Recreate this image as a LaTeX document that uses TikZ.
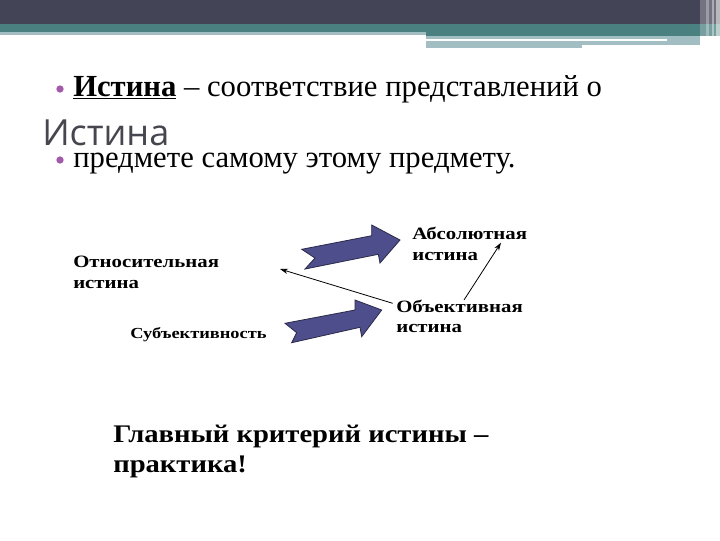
\documentclass[tikz,border=0pt]{standalone}
\usepackage{fontspec}
\setmainfont{Liberation Serif}
\newfontfamily\titlefont{Open Sans}
\newfontfamily\lblfont[FakeStretch=1.2]{Liberation Serif}
\newfontfamily\mainfont[FakeStretch=1.13]{Liberation Serif}
\usetikzlibrary{arrows.meta}
\definecolor{hdark}{HTML}{434456}
\definecolor{hteal}{HTML}{4A8080}
\definecolor{hlight}{HTML}{A3BEC2}
\definecolor{bulletc}{HTML}{A35AAA}
\definecolor{titlec}{HTML}{46464F}
\definecolor{arrowfill}{HTML}{4E4E8C}
\definecolor{arrowline}{HTML}{2A2A48}
\tikzset{
  bullettext/.style={anchor=base west, inner sep=0pt, font=\fontsize{23}{27}\selectfont},
  bulletdot/.style={circle, fill=bulletc, inner sep=0pt, minimum size=5.5pt},
  lbl/.style={anchor=base west, inner sep=0pt, align=left, font=\lblfont\fontsize{13}{15.3}\selectfont\bfseries},
  blockarrow/.style={fill=arrowfill, draw=arrowline, line width=0.6pt, line join=miter},
  thinarrow/.style={draw=black, line width=0.6pt, -{Stealth[length=6pt,width=4pt]}}
}
\begin{document}
\begin{tikzpicture}[x=0.75pt,y=-0.75pt]
\useasboundingbox (0,0) rectangle (720,540);
\fill[white] (0,0) rectangle (720,540);
% header
\fill[hdark] (0,0) rectangle (720,24);
\fill[hteal] (0,24) rectangle (426,32);
\fill[hlight] (0,32) rectangle (426,35);
\fill[hteal] (426,24) rectangle (720,36);
\fill[hlight] (426,36) rectangle (700,48);
\fill[white] (426,38.5) rectangle (667,40.5);
\fill[white] (582,45) rectangle (704,48);
\fill[white,opacity=0.25] (700,0) rectangle (720,48);
\fill[white,opacity=0.3] (706,0) rectangle (709,48);
\fill[white,opacity=0.4] (712,0) rectangle (714,48);
\fill[white,opacity=0.5] (716,0) rectangle (720,48);
% title
\node[anchor=base west, inner sep=0pt, text=titlec, font=\titlefont\fontsize{27}{31}\selectfont] (title) at (42,145) {Истина};
% bullets
\node[bulletdot] (b1) at (60,89) {};
\node[bullettext] (t1) at (73,96) {\textbf{\underline{Истина}} – соответствие представлений о};
\node[bulletdot] (b2) at (60,160) {};
\node[bullettext] (t2) at (73,167) {предмете самому этому предмету.};
% labels (anchored at the baseline of the last line)
\node[lbl] (otn) at (73,288) {Относительная\\истина};
\node[lbl] (abs) at (412,260) {Абсолютная\\истина};
\node[lbl] (obj) at (396,332.5) {Объективная\\истина};
\node[lbl, font=\lblfont\fontsize{11.5}{14}\selectfont\bfseries] (sub) at (130,338.5) {Субъективность};
\node[anchor=base west, inner sep=0pt, align=left, font=\mainfont\fontsize{19}{21.8}\selectfont\bfseries] (main) at (113,472) {Главный критерий истины –\\практика!};
% block arrows
\draw[blockarrow] (301.7,249.3) -- (371.7,235.7) -- (371.7,225) -- (400,240) -- (380,263) -- (378.3,254.3) -- (305,269) -- (315,258) -- cycle;
\draw[blockarrow] (285,323.3) -- (355,310) -- (355,300) -- (381.7,310) -- (361.7,336.7) -- (360,327.3) -- (291.7,342.7) -- (296.7,332.7) -- cycle;
% thin connectors
\coordinate (objL) at (392.7,303.3);
\coordinate (otnR) at (280,269);
\coordinate (objT) at (464,300);
\coordinate (absB) at (501,242.7);
\draw[thinarrow] (objL) -- (otnR);
\draw[thinarrow] (objT) -- (absB);
\end{tikzpicture}
\end{document}
